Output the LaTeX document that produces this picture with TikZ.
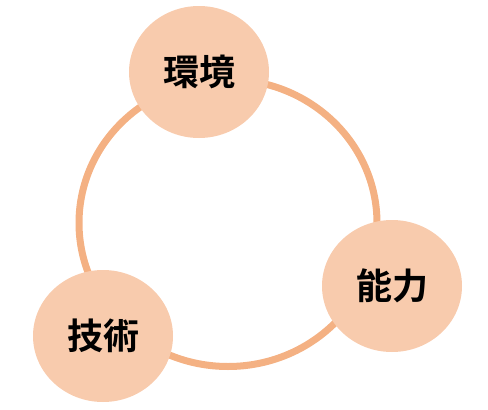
\documentclass[tikz,border=0pt]{standalone}
\usepackage{fontspec}
\usepackage{tikz}
\usetikzlibrary{shapes.geometric}
\newfontfamily\jpfont{Noto Sans CJK JP}[BoldFont={* Bold}]
\definecolor{ringorange}{HTML}{F4B183}
\definecolor{bubblepeach}{HTML}{F8CBAD}

\begin{document}
\begin{tikzpicture}[x=1pt, y=-1pt,
                bubblenode/.style={ellipse, fill=bubblepeach, minimum width=140pt, minimum height=132pt, inner sep=0pt, font=\jpfont\bfseries\fontsize{36}{40}\selectfont},
                ringline/.style={draw=ringorange, line width=7pt},
            ]
            \useasboundingbox (0,0) rectangle (488,410);

            % Ring
            \coordinate (ring_center) at (228,223);
            \draw[ringline] (ring_center) ellipse [x radius=149pt, y radius=143.5pt];

            % Nodes
            \node[bubblenode]        (kankyo)     at (199,72)        {環境};
            \node[bubblenode]        (noryoku)    at (392,286)       {能力};
            \node[bubblenode]        (gijutsu)    at (103,336)       {技術};
        \end{tikzpicture}
\end{document}
